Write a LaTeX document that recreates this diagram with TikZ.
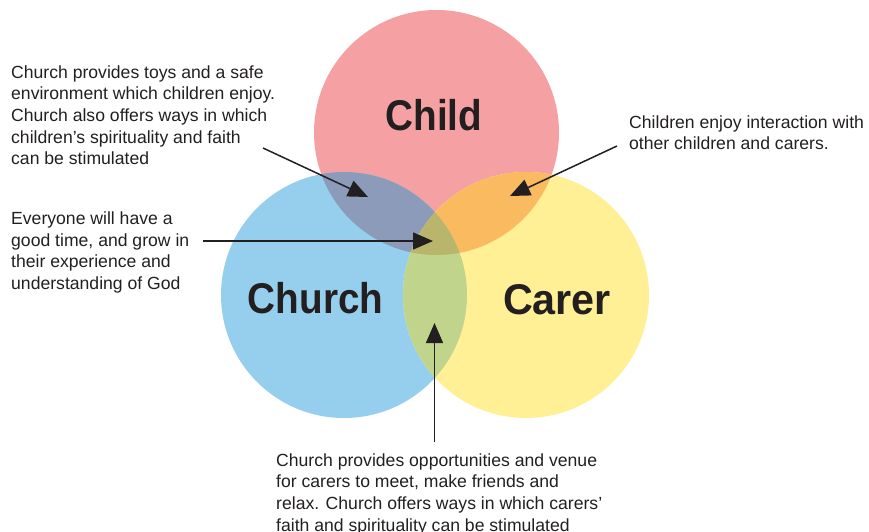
\documentclass[tikz,border=0pt]{standalone}
\usepackage{fontspec}
\setmainfont{Liberation Sans}
\newfontfamily\titolo[FakeStretch=0.9]{Liberation Sans Bold}
\usetikzlibrary{arrows.meta}

\definecolor{rosa}{HTML}{F5A0A3}
\definecolor{azzurro}{HTML}{96CFED}
\definecolor{giallo}{HTML}{FFF096}
\definecolor{grigioblu}{HTML}{8B9BB9}
\definecolor{arancio}{HTML}{F9BA60}
\definecolor{verde}{HTML}{C0D58B}
\definecolor{oliva}{HTML}{B9B56C}
\definecolor{inchiostro}{HTML}{231F20}

\begin{document}
\begin{tikzpicture}[x=1pt, y=-1pt,
    testo/.style={anchor=north west, align=left, inner sep=0pt, text=inchiostro,
        font=\fontsize{17.6}{21.7}\selectfont},
    nome/.style={anchor=base, inner sep=0pt, text=inchiostro,
        font=\titolo\fontsize{43}{43}\selectfont},
    freccia/.style={-{Triangle[length=20pt, width=17pt]}, line width=1.5pt, inchiostro}]
        \useasboundingbox (0,0) rectangle (869,532);

        % Cerchi
        \fill[rosa] (436.5,132.5) circle (122.5);
        \fill[azzurro] (344,295) circle (123);
        \fill[giallo] (526,295) circle (123);

        % Intersezioni
        \begin{scope}
            \clip (436.5,132.5) circle (122.5);
            \fill[grigioblu] (344,295) circle (123);
            \fill[arancio] (526,295) circle (123);
        \end{scope}
        \begin{scope}
            \clip (344,295) circle (123);
            \fill[verde] (526,295) circle (123);
        \end{scope}
        \begin{scope}
            \clip (436.5,132.5) circle (122.5);
            \clip (344,295) circle (123);
            \fill[oliva] (526,295) circle (123);
        \end{scope}

        % Nomi
        \node[nome] (child) at (434,131) {Child};
        \node[nome] (church) at (315.5,313) {Church};
        \node[nome] (carer) at (557,314) {\addfontfeature{FakeStretch=0.96}Carer};

        % Testi
        \node[testo] (giochi) at (11,65.2) {Church provides toys and a safe\\
            environment which children enjoy.\\
            Church also offers ways in which\\
            children's spirituality and faith\\
            can be stimulated};
        \node[testo] (tutti) at (11,211.4) {Everyone will have a\\
            good time, and grow in\\
            their experience and\\
            understanding of God};
        \node[testo] (bambini) at (629,115.2) {Children enjoy interaction with\\
            other children and carers.};
        \node[testo] (adulti) at (276,453.2) {Church provides opportunities and venue\\
            for carers to meet, make friends and\\
            relax. Church offers ways in which carers'\\
            faith and spirituality can be stimulated};

        % Frecce
        \coordinate (da giochi) at (263,148);
        \coordinate (a giochi) at (368,197);
        \coordinate (da tutti) at (203,241);
        \coordinate (a tutti) at (433,241);
        \coordinate (da bambini) at (617,146);
        \coordinate (a bambini) at (510,196);
        \coordinate (da adulti) at (434.5,442);
        \coordinate (a adulti) at (434.5,323);
        \draw[freccia] (da giochi) -- (a giochi);
        \draw[freccia] (da tutti) -- (a tutti);
        \draw[freccia] (da bambini) -- (a bambini);
        \draw[freccia] (da adulti) -- (a adulti);

    \end{tikzpicture}
\end{document}
